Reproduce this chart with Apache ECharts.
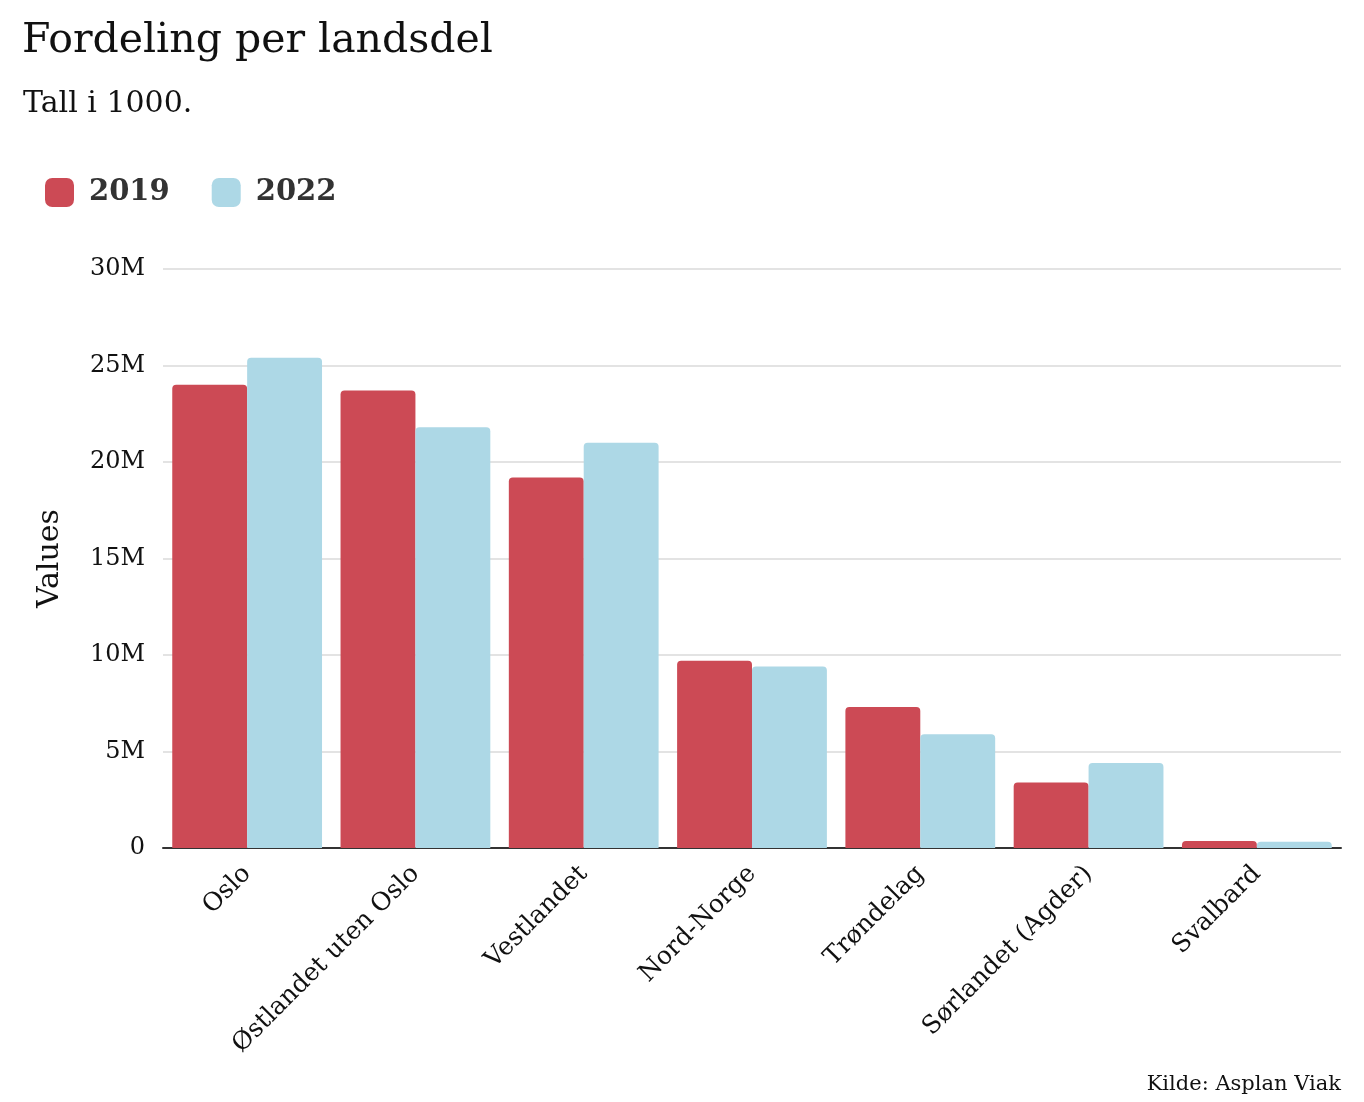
<!DOCTYPE html>
<html>
<head>
<meta charset="utf-8">
<script src="https://cdn.jsdelivr.net/npm/echarts@6/dist/echarts.min.js"></script>
<style>
  html, body { margin: 0; padding: 0; background: #fff; }
  #chart { width: 1364px; height: 1102px; }
</style>
</head>
<body>
<div id="chart"></div>
<script>
// regions and values (millions)
const regions = ["Oslo", "Østlandet uten Oslo", "Vestlandet", "Nord-Norge", "Trøndelag", "Sørlandet (Agder)", "Svalbard"];
const values2019 = [24.0, 23.7, 19.2, 9.7, 7.3, 3.4, 0.36];
const values2022 = [25.4, 21.8, 21.0, 9.4, 5.9, 4.4, 0.33];
const seriesNames = ["2019", "2022"];

const font = "'DejaVu Serif', serif";

const chart = echarts.init(document.getElementById("chart"));
chart.setOption({
  animation: false,
  textStyle: { fontFamily: font },
  color: ["#cc4a55", "#add8e6"],
  title: [
    {
      text: "Fordeling per landsdel",
      left: 17,
      top: 16,
      textStyle: { fontFamily: font, fontSize: 41, fontWeight: "normal", color: "#111" },
    },
    {
      text: "Tall i 1000.",
      left: 18,
      top: 84,
      textStyle: { fontFamily: font, fontSize: 30, fontWeight: "normal", color: "#111" },
    },
    {
      text: "Kilde: Asplan Viak",
      right: 18,
      top: 1069,
      textStyle: { fontFamily: font, fontSize: 21, fontWeight: "normal", color: "#111" },
    },
  ],
  legend: {
    data: seriesNames,
    left: 40,
    top: 173,
    itemWidth: 29,
    itemHeight: 29,
    itemGap: 42,
    icon: "roundRect",
    textStyle: { fontFamily: font, fontSize: 29, fontWeight: "bold", color: "#333", padding: [0, 0, 0, 10] },
  },
  grid: {
    left: 163,
    right: 23,
    top: 269,
    bottom: 254,
    containLabel: false,
  },
  xAxis: {
    type: "category",
    data: regions,
    axisTick: { show: false },
    axisLine: { lineStyle: { color: "#333", width: 2 } },
    axisLabel: {
      rotate: 45,
      fontFamily: font,
      fontSize: 25,
      color: "#111",
      margin: 22,
      interval: 0,
    },
  },
  yAxis: {
    type: "value",
    min: 0,
    max: 30,
    interval: 5,
    name: "Values",
    nameLocation: "middle",
    nameGap: 98,
    nameTextStyle: { fontFamily: font, fontSize: 30, color: "#111" },
    axisLine: { show: false },
    axisTick: { show: false },
    splitLine: { lineStyle: { color: "#e3e3e3", width: 2 } },
    axisLabel: {
      fontFamily: font,
      fontSize: 24,
      color: "#111",
      margin: 18,
      formatter: (v) => (v === 0 ? "0" : v + "M"),
    },
  },
  series: [
    {
      name: seriesNames[0],
      type: "bar",
      data: values2019,
      barGap: "0%",
      barCategoryGap: "11%",
      itemStyle: { borderRadius: [4, 4, 0, 0] },
    },
    {
      name: seriesNames[1],
      type: "bar",
      data: values2022,
      barGap: "0%",
      barCategoryGap: "11%",
      itemStyle: { borderRadius: [4, 4, 0, 0] },
    },
  ],
});
</script>
</body>
</html>
